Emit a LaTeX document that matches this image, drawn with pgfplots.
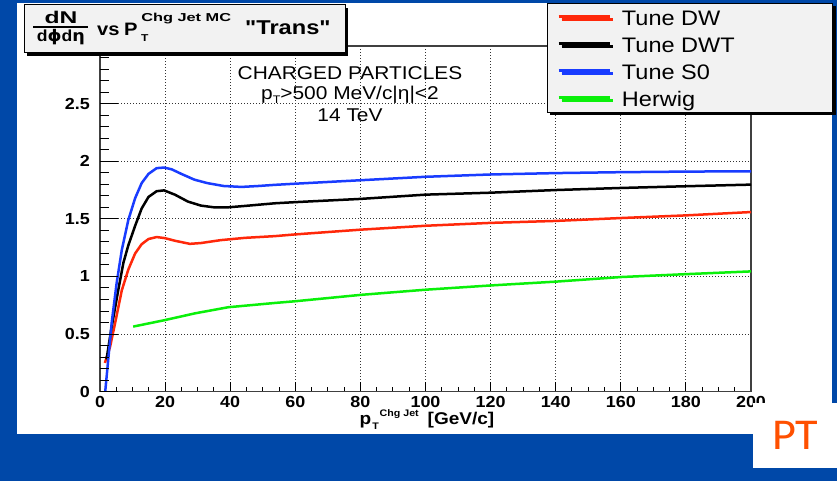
\documentclass[border=0pt]{standalone}
\usepackage{fontspec}
\setmainfont{Liberation Sans}
\newfontfamily\rawfont{Liberation Sans}
\newfontfamily\greek{DejaVu Sans}
\newfontfamily\slidefont{Carlito}
\usepackage{graphicx}
\usepackage{pgfplots}
\pgfplotsset{compat=1.18}
\usetikzlibrary{shadows}

\definecolor{slideblue}{RGB}{0,72,168}
\definecolor{tunedw}{RGB}{255,40,10}
\definecolor{tunedwt}{RGB}{0,0,0}
\definecolor{tunes0}{RGB}{25,60,255}
\definecolor{herwig}{RGB}{10,240,10}
\definecolor{boxgray}{RGB}{242,242,242}
\definecolor{ptorange}{RGB}{255,80,0}

% legend text: stretched a little and padded to a fixed width
\newcommand{\legtext}[1]{\hbox to 201pt{\scalebox{1.12}[1]{#1}\hfil}}

\begin{document}
\begin{tikzpicture}[x=1pt,y=1pt]
\useasboundingbox (0,0) rectangle (837,481);
\fill[slideblue] (0,0) rectangle (837,481);
\fill[white] (17,47) rectangle (832,478);

% main frame: grid, x ticks, tick labels, curves, legend
\begin{axis}[
  at={(100pt,89.3pt)}, anchor=south west,
  scale only axis, width=651pt, height=345.7pt,
  xmin=0, xmax=200, ymin=0, ymax=3,
  xtick={0,20,...,200}, ytick={0,0.5,1,1.5,2,2.5,3},
  yticklabels={0,0.5,1,1.5,2,2.5,{}},
  minor x tick num=3,
  grid=major,
  major grid style={dash pattern=on 1pt off 2pt, line width=0.9pt, black!80},
  tick align=inside,
  xtick pos=bottom, ytick pos=left,
  major tick length=10pt, minor tick length=5pt,
  tick style={line width=1pt, black},
  axis line style={line width=1.3pt, black!75},
  /pgf/number format/assume math mode=true,
  ticklabel style={font=\fontsize{16}{18}\selectfont\bfseries},
  xticklabel style={anchor=north, inner sep=0pt, yshift=-4pt, xscale=1.12},
  yticklabel style={anchor=east, inner sep=0pt, xshift=-10pt, xscale=1.12},
  xlabel={p\hspace{1pt}\makebox[0pt][l]{\hspace{6.5pt}\raisebox{8.5pt}{\fontsize{9.5}{10}\selectfont Chg Jet}}\raisebox{-5pt}{\fontsize{9.5}{10}\selectfont T}\hspace{43.5pt}[GeV/c]},
  xlabel style={font=\fontsize{17}{20}\selectfont\bfseries, at={(rel axis cs:0.5023,-0.0949)}, anchor=base, inner sep=0pt, xscale=1.12},
  legend style={
    at={(rel axis cs:0.6866,1.1244)}, anchor=north west,
    fill=boxgray, draw=black, line width=1pt,
    font=\fontsize{21}{24}\selectfont,
    cells={anchor=center},
    inner xsep=10pt, inner ysep=2pt,
    row sep=3pt,
    nodes={inner sep=0pt, text height=20pt, text depth=4pt},
    /tikz/every odd column/.append style={column sep=11pt},
    drop shadow={shadow xshift=3pt, shadow yshift=-3pt, fill=black, opacity=1},
  },
  legend image code/.code={\draw[#1, line width=2.5pt] (0pt,1pt) -- (51pt,1pt);},
]

\addplot[tunedw, line width=2.5pt, line join=round] coordinates {
  (1.5,0.25) (3.1,0.39) (4.6,0.59) (6.7,0.88) (8.7,1.06) (10.8,1.20)
  (12.8,1.28) (14.9,1.325) (17.4,1.342) (19.9,1.333) (23,1.31)
  (27.6,1.283) (31,1.29) (37,1.315) (44.5,1.335) (53.7,1.35)
  (60,1.365) (80,1.406) (100,1.44) (120,1.465) (140,1.482)
  (160,1.507) (180,1.53) (200,1.559)
};
\addlegendentry{\legtext{Tune DW}}

\addplot[tunedwt, line width=2.5pt, line join=round] coordinates {
  (2,0.28) (3.5,0.55) (5.6,0.88) (7.2,1.12) (8.7,1.27) (10.8,1.44)
  (12.8,1.59) (14.9,1.69) (17.4,1.74) (19.7,1.747) (23,1.71)
  (27,1.65) (31,1.615) (35,1.60) (39.4,1.60) (44.5,1.612)
  (53.7,1.635) (60,1.645) (80,1.673) (100,1.71) (120,1.727)
  (140,1.75) (160,1.768) (180,1.783) (200,1.797)
};
\addlegendentry{\legtext{Tune DWT}}

\addplot[tunes0, line width=2.5pt, line join=round] coordinates {
  (1.6,0) (2.6,0.30) (3.6,0.60) (5.1,0.94) (6.7,1.23) (8.7,1.49)
  (10.8,1.68) (12.8,1.81) (14.9,1.89) (17.4,1.94) (19.7,1.945)
  (22,1.93) (25,1.89) (29,1.84) (33,1.81) (38,1.785) (43.5,1.777)
  (48.6,1.785) (53.7,1.795) (60,1.805) (80,1.835) (100,1.865)
  (120,1.885) (140,1.897) (160,1.905) (180,1.91) (200,1.913)
};
\addlegendentry{\legtext{Tune S0}}

\addplot[herwig, line width=2.5pt, line join=round] coordinates {
  (10.2,0.565) (19.7,0.62) (29.2,0.68) (39.4,0.733) (53.7,0.77)
  (60,0.785) (80,0.84) (100,0.885) (120,0.922) (140,0.955)
  (160,0.995) (180,1.02) (200,1.044)
};
\addlegendentry{\legtext{Herwig}}
\end{axis}

% longer y tick marks on the left axis
\begin{axis}[
  at={(100pt,89.3pt)}, anchor=south west,
  scale only axis, width=651pt, height=345.7pt,
  xmin=0, xmax=200, ymin=0, ymax=3,
  hide x axis,
  axis line style={draw=none},
  ytick={0,0.5,1,1.5,2,2.5,3}, yticklabels={},
  minor y tick num=4,
  ytick pos=left, tick align=inside,
  major tick length=18pt, minor tick length=9pt,
  tick style={line width=1pt, black},
]
\addplot[draw=none] coordinates {(0,0) (200,3)};
\end{axis}

% title box
\fill[black] (27,425) rectangle (348,473);
\filldraw[fill=boxgray, draw=black, line width=1pt] (24,428) rectangle (345,476);
\node[anchor=base, inner sep=0pt, font=\fontsize{17}{18}\selectfont\bfseries, xscale=1.45] at (61,457) {dN};
\draw[black, line width=1.4pt] (33,454) -- (88,454);
\node[anchor=base, inner sep=0pt, font=\fontsize{16}{18}\selectfont\bfseries, xscale=1.1] at (61,439) {d{\greek ϕ}d{\greek η}};
\node[anchor=base west, inner sep=0pt, font=\fontsize{18}{20}\selectfont\bfseries, xscale=1.12] at (97,445) {vs};
\node[anchor=base west, inner sep=0pt, font=\fontsize{18}{20}\selectfont\bfseries, xscale=1.12] at (124,445) {P};
\node[anchor=base west, inner sep=0pt, font=\fontsize{11.5}{13}\selectfont\bfseries, xscale=1.42] at (141,459) {Chg Jet MC};
\node[anchor=base west, inner sep=0pt, font=\fontsize{10}{11}\selectfont\bfseries, xscale=1.2] at (141,439) {T};
\node[anchor=base west, inner sep=0pt, font=\rawfont\fontsize{20}{22}\selectfont\bfseries, xscale=1.18] at (245,446) {"Trans"};

% annotation
\begin{scope}[every node/.style={anchor=base, inner sep=0pt, font=\fontsize{18.5}{20}\selectfont, xscale=1.13}]
\node at (350,401) {CHARGED PARTICLES};
\node at (350,381) {p\raisebox{-4pt}{\fontsize{11}{12}\selectfont T}>500 MeV/c|η|<2};
\node at (350,359) {14 TeV};
\end{scope}

% slide footer tag
\fill[white] (753,13) rectangle (837,78);
\node[anchor=base west, inner sep=0pt, text=ptorange, font=\slidefont\fontsize{44}{46}\selectfont, xscale=1.05] at (772,31) {PT};
\end{tikzpicture}
\end{document}
